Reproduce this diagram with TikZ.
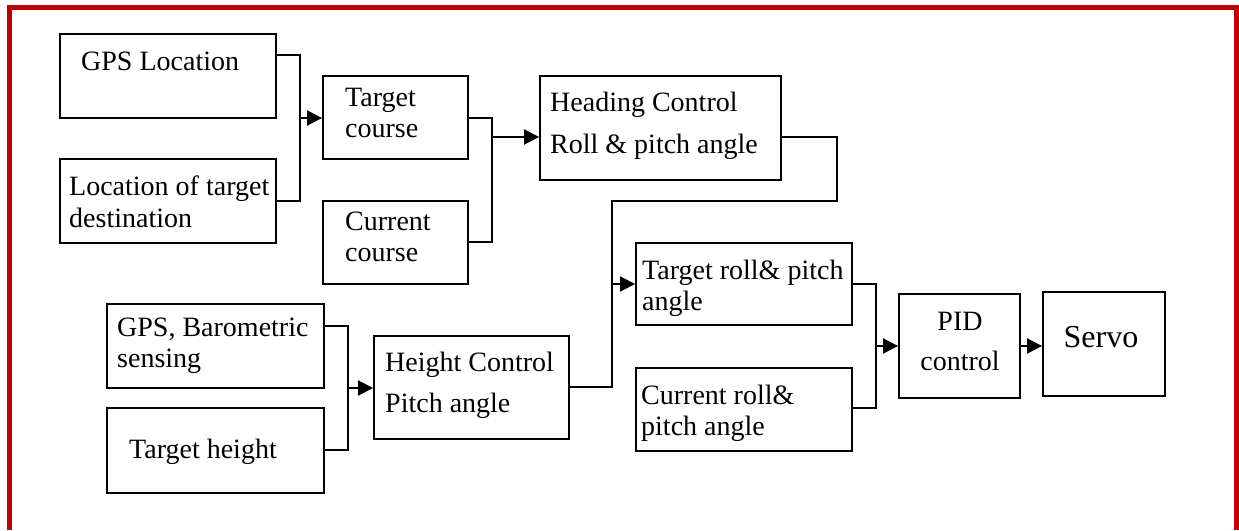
\documentclass[tikz,border=0pt]{standalone}
\usepackage{fontspec}
\setmainfont{Liberation Serif}
\usetikzlibrary{arrows.meta,fit}
\definecolor{framered}{RGB}{192,0,0}
\begin{document}
\begin{tikzpicture}[x=1pt,y=-1pt,
  box/.style={draw, line width=1.9pt, inner sep=0pt},
  lbl/.style={inner sep=0pt, anchor=base west, font=\fontsize{28}{32}\selectfont},
  clbl/.style={inner sep=0pt, anchor=base, font=\fontsize{28}{32}\selectfont},
  wire/.style={line width=1.9pt},
  arr/.style={wire, -{Triangle[length=15pt,width=15pt]}},
  frame/.style={draw=framered, line width=5pt}]
\useasboundingbox (0,0) rectangle (1239,530);
% red frame (open at the bottom)
\draw[frame] (9,530) -- (9,7) -- (1236,7) -- (1236,530);

% boxes
\node[box, fit={(60,34) (276,118)}] (gps) {};
\node[box, fit={(60,159) (276,243)}] (loc) {};
\node[box, fit={(323,76) (468,159)}] (tc) {};
\node[box, fit={(323,201) (468,284)}] (cc) {};
\node[box, fit={(540,76) (781,180)}] (hc) {};
\node[box, fit={(107,304) (324,388)}] (gb) {};
\node[box, fit={(107,408) (324,493)}] (th) {};
\node[box, fit={(374,336) (569,439)}] (htc) {};
\node[box, fit={(636,243) (852,325)}] (tr) {};
\node[box, fit={(636,368) (852,451)}] (cr) {};
\node[box, fit={(899,294) (1020,398)}] (pid) {};
\node[box, fit={(1043,292) (1165,396)}] (servo) {};

% texts
\node[lbl] (t1) at (81,70) {GPS Location};
\node[lbl] (t2) at (69,195) {Location of target};
\node[lbl] (t3) at (69,227) {destination};
\node[lbl] (t4) at (345,106) {Target};
\node[lbl] (t5) at (345,137) {course};
\node[lbl] (t6) at (345,230) {Current};
\node[lbl] (t7) at (345,261) {course};
\node[lbl] (t8) at (550,111) {Heading Control};
\node[lbl] (t9) at (550,153) {Roll \& pitch angle};
\node[lbl] (t10) at (117,336) {GPS, Barometric};
\node[lbl] (t11) at (117,367) {sensing};
\node[lbl] (t12) at (129,458) {Target height};
\node[lbl] (t13) at (385,371) {Height Control};
\node[lbl] (t14) at (385,412) {Pitch angle};
\node[lbl] (t15) at (642,279) {Target roll\& pitch};
\node[lbl] (t16) at (642,310) {angle};
\node[lbl] (t17) at (641,404) {Current roll\&};
\node[lbl] (t18) at (641,435) {pitch angle};
\node[clbl] (t19) at (960,330) {PID};
\node[clbl] (t20) at (960,370) {control};
\node[clbl, font=\fontsize{32}{36}\selectfont] (t21) at (1101,347) {Servo};

% junctions
\coordinate (j1) at (300,118);
\coordinate (j2) at (492,137);
\coordinate (k1) at (837,201);
\coordinate (j3) at (612,284);
\coordinate (j4) at (876,346);
\coordinate (j5) at (348,388);

% connectors
\draw[wire] (gps.east |- 0,55) -| (j1);
\draw[wire] (loc.east |- 0,201) -| (j1);
\draw[arr] (j1) -- (tc.west |- j1);

\draw[wire] (tc.east |- 0,118) -| (j2);
\draw[wire] (cc.east |- 0,242) -| (j2);
\draw[arr] (j2) -- (hc.west |- j2);

\draw[wire] (hc.east |- 0,137) -| (k1) -| (j3);
\draw[wire] (gb.east |- 0,326) -| (j5);
\draw[wire] (th.east |- 0,450) -| (j5);
\draw[arr] (j5) -- (htc.west |- j5);
\draw[wire] (htc.east |- 0,387) -| (j3);
\draw[arr] (j3) -- (tr.west |- j3);

\draw[wire] (tr.east |- 0,284) -| (j4);
\draw[wire] (cr.east |- 0,408) -| (j4);
\draw[arr] (j4) -- (pid.west |- j4);
\draw[arr] (pid.east |- j4) -- (servo.west |- j4);
\end{tikzpicture}
\end{document}
